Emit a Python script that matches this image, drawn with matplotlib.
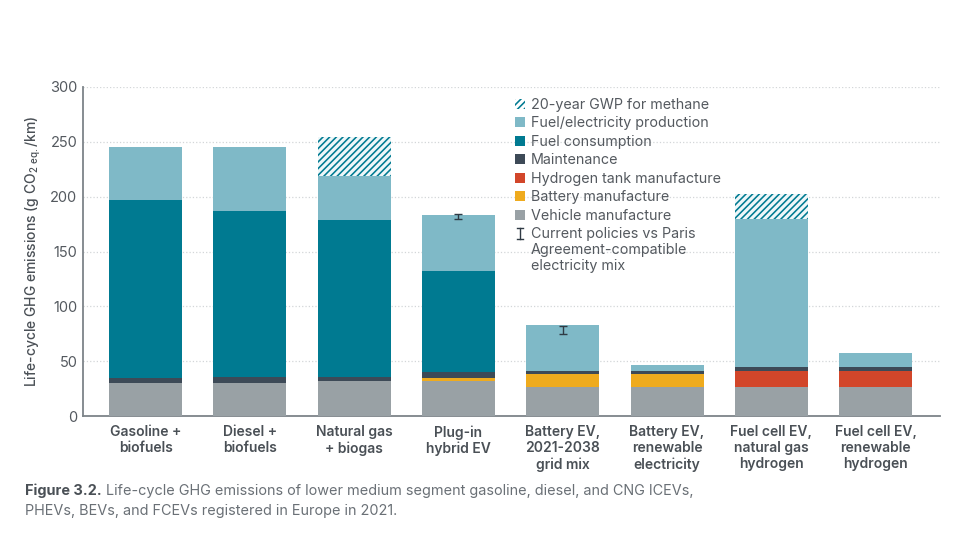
import numpy as np
import matplotlib
matplotlib.use("Agg")
import matplotlib.pyplot as plt
from matplotlib.patches import Patch
from matplotlib.lines import Line2D
from matplotlib.legend_handler import HandlerBase

plt.rcParams['font.family'] = ['Inter', 'DejaVu Sans']
plt.rcParams['mathtext.fontset'] = 'custom'
plt.rcParams['mathtext.rm'] = 'Inter'
plt.rcParams['hatch.linewidth'] = 1.15

categories = ["Gasoline +\nbiofuels", "Diesel +\nbiofuels", "Natural gas\n+ biogas",
              "Plug-in\nhybrid EV", "Battery EV,\n2021-2038\ngrid mix",
              "Battery EV,\nrenewable\nelectricity", "Fuel cell EV,\nnatural gas\nhydrogen",
              "Fuel cell EV,\nrenewable\nhydrogen"]

vehicle = [30, 30, 31.5, 32, 26, 26, 26, 26]
battery = [0, 0, 0, 3, 12, 12, 0, 0]
hydrogen_tank = [0, 0, 0, 0, 0, 0, 15, 15]
maintenance = [4.5, 6, 4.5, 5, 3.3, 3.3, 4, 4]
fuel_use = [162.5, 151, 143, 92, 0, 0, 0, 0]
fuel_production = [48, 58, 39.5, 51.5, 41.7, 5.2, 135, 12.5]
methane_20yr = [0, 0, 36, 0, 0, 0, 22.5, 0]

err_bars_x = [3, 4]
err_bars_y = [182, 78.7]
err_bars_size = [2, 3.5]

yticks = [0, 50, 100, 150, 200, 250, 300]

series = [
    ("Vehicle manufacture", vehicle, "#99a1a5"),
    ("Battery manufacture", battery, "#efab1e"),
    ("Hydrogen tank manufacture", hydrogen_tank, "#d2462a"),
    ("Maintenance", maintenance, "#3d4a57"),
    ("Fuel consumption", fuel_use, "#007a91"),
    ("Fuel/electricity production", fuel_production, "#7fb9c7"),
]

text_col = "#54595f"
x = np.arange(len(categories))


# legend key for the error bar, lined up with the first of the three text lines
class TopErrorKey(HandlerBase):
    def create_artists(self, legend, orig, xd, yd, width, height, fontsize, trans):
        cx = width / 2
        top = height + 12.5
        low = height + 5
        parts = [Line2D([cx, cx], [low, top]),
                 Line2D([cx - 2.2, cx + 2.2], [low, low]),
                 Line2D([cx - 2.2, cx + 2.2], [top, top])]
        for p in parts:
            p.set_color("#2f3a44")
            p.set_linewidth(1)
            p.set_transform(trans)
        return parts


fig = plt.figure(figsize=(9.6, 5.39), dpi=100)
ax = fig.add_axes([83/960, (539-416)/539, 857/960, 329/539])

bottom = np.zeros(len(categories))
for name, vals, col in series:
    ax.bar(x, vals, 0.7, bottom=bottom, color=col, linewidth=0, zorder=3)
    bottom += np.array(vals)

# hatched part sits on top of the stack
ax.bar(x, methane_20yr, 0.7, bottom=bottom, facecolor="#eef7f9", edgecolor="#007a91",
       hatch="/////", linewidth=0, zorder=3)

ax.errorbar(err_bars_x, err_bars_y, yerr=err_bars_size, fmt="none", ecolor="#2f3a44",
            elinewidth=1, capsize=3, capthick=1, zorder=4)

ax.set_xlim(-0.6, 7.617)
ax.set_ylim(0, 300)
ax.set_yticks(yticks)
ax.set_xticks(x)
ax.set_xticklabels(categories, fontsize=10, fontweight=600, color="#4a5056", linespacing=1.2)
ax.tick_params(axis="x", length=0, pad=6.5)
ax.tick_params(axis="y", length=0, pad=4, labelsize=10.5, labelcolor=text_col)
ax.grid(axis="y", linestyle=":", color="#d3d6d8", linewidth=0.9, zorder=0)
ax.set_axisbelow(True)
for s in ["top", "right"]:
    ax.spines[s].set_visible(False)
for s in ["left", "bottom"]:
    ax.spines[s].set_color("#7d8489")
    ax.spines[s].set_linewidth(1.3)

fig.text(33/960, 1-251/539, r"Life-cycle GHG emissions (g CO$_{\mathregular{2\ eq.}}$/km)",
         rotation=90, ha="center", va="center", fontsize=10, fontweight=500, color="#4a5056")

handles = [Patch(facecolor="white", edgecolor="#007a91", hatch="/////", linewidth=0)]
labels = ["20-year GWP for methane"]
for name, vals, col in reversed(series):
    handles.append(Patch(facecolor=col, linewidth=0))
    labels.append(name)
err_key = Line2D([], [])
handles.append(err_key)
labels.append("Current policies vs Paris\nAgreement-compatible\nelectricity mix")
leg = ax.legend(handles, labels, loc="upper left", bbox_to_anchor=(515/960, 1-98/539),
                bbox_transform=fig.transFigure, frameon=False, fontsize=10.3, labelcolor=text_col,
                handlelength=0.7, handleheight=0.7, handletextpad=0.42, labelspacing=0.31,
                borderpad=0, borderaxespad=0, handler_map={err_key: TopErrorKey()})
for t in leg.get_texts():
    t.set_linespacing(1.2)

fig.text(25/960, 1-491/539, "Figure 3.2.", fontsize=10.4, fontweight="bold", color="#4a5056", va="center")
fig.text(106/960, 1-491/539, "Life-cycle GHG emissions of lower medium segment gasoline, diesel, and CNG ICEVs,",
         fontsize=10.4, color="#6a7076", va="center")
fig.text(25/960, 1-511/539, "PHEVs, BEVs, and FCEVs registered in Europe in 2021.",
         fontsize=10.4, color="#6a7076", va="center")

fig.savefig("out.png", dpi=100)
